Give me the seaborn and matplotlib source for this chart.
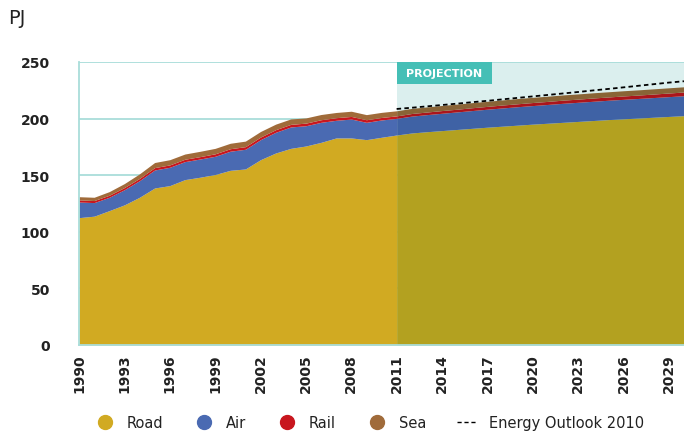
import matplotlib
matplotlib.use("Agg")
import matplotlib.pyplot as plt
from matplotlib.lines import Line2D
from matplotlib.patches import Rectangle
import seaborn as sns
import pandas as pd

# data (PJ)
years = list(range(1990, 2031))
road = [112.5, 113.8, 118.7, 123.8, 130.5, 138.7, 140.8, 146.1, 148.2, 150.6,
        154.3, 155.5, 163.7, 169.6, 173.7, 175.8, 179.0, 182.9, 182.9, 181.4,
        183.5, 185.5,
        187.3, 188.4, 189.4, 190.4, 191.4, 192.4, 193.3, 194.2, 195.1, 195.9,
        196.7, 197.5, 198.3, 199.1, 199.8, 200.5, 201.2, 201.9, 202.6]
air = [13.8, 12.0, 11.8, 13.4, 14.7, 15.9, 16.2, 15.9, 16.1, 16.1,
       16.9, 17.4, 17.7, 18.3, 18.9, 17.9, 17.7, 15.6, 16.7, 15.3,
       15.3, 14.7,
       14.9, 15.1, 15.3, 15.5, 15.7, 15.9, 16.1, 16.3, 16.4, 16.6,
       16.8, 16.9, 17.0, 17.1, 17.2, 17.3, 17.4, 17.5, 17.6]
rail = [1.9, 1.8, 1.8, 1.9, 2.0, 2.1, 2.1, 2.1, 2.1, 2.2,
        2.2, 2.3, 2.3, 2.3, 2.3, 2.3, 2.3, 2.3, 2.3, 2.3,
        2.2, 2.2,
        2.3, 2.3, 2.4, 2.4, 2.5, 2.5, 2.6, 2.6, 2.7, 2.7,
        2.8, 2.8, 2.9, 2.9, 3.0, 3.0, 3.1, 3.2, 3.3]
sea = [2.8, 2.9, 3.2, 3.5, 4.0, 4.5, 4.6, 4.6, 4.7, 4.8,
       4.8, 4.9, 4.9, 4.9, 4.8, 4.6, 4.6, 4.6, 4.6, 4.5,
       4.5, 4.5,
       4.5, 4.5, 4.5, 4.5, 4.5, 4.5, 4.5, 4.6, 4.6, 4.6,
       4.6, 4.6, 4.6, 4.6, 4.6, 4.6, 4.6, 4.6, 4.6]
outlook_years = list(range(2011, 2031))
outlook = [208.5, 209.6, 210.8, 212.0, 213.2, 214.5, 215.7, 217.0, 218.3, 219.6,
           220.9, 222.2, 223.5, 224.9, 226.2, 227.6, 229.0, 230.4, 231.8, 233.0]

labels = ["Road", "Air", "Rail", "Sea"]
colors = ["#D1AA22", "#4A6AB2", "#C8161E", "#A06B3A"]
proj_colors = ["#B3A120", "#3F62A5", "#AB151C", "#896436"]
proj_start = 2011

df = pd.DataFrame({"year": years, "Road": road, "Air": air, "Rail": rail, "Sea": sea})
hist = df[df.year <= proj_start]
proj = df[df.year >= proj_start]

sns.set_theme(style="white")
plt.rcParams["font.family"] = ["DejaVu Sans"]

fig = plt.figure(figsize=(6.84, 4.35), dpi=100)
ax = fig.add_axes([0.1155, 0.2046, 0.8845, 0.6506])

grid_c = "#A9DDDA"
ax.axvspan(proj_start, 2030, color="#DBEFEE", zorder=0, lw=0)
for v in [50, 100, 150, 200, 250]:
    ax.axhline(v, color=grid_c, lw=1.3, zorder=1)

ax.stackplot(hist.year, [hist[c] for c in labels], colors=colors, lw=0, zorder=2)
ax.stackplot(proj.year, [proj[c] for c in labels], colors=proj_colors, lw=0, zorder=2)

sns.lineplot(x=outlook_years, y=outlook, ax=ax, color="black", lw=1.3,
             linestyle=(0, (2.5, 1.8)), zorder=4)

# projection tag
ax.add_patch(Rectangle((proj_start, 230.5), 6.3, 19.5, color="#45BFB6", lw=0, zorder=5))
ax.text(proj_start + 3.15, 240.2, "PROJECTION", color="white", fontsize=8,
        fontweight="bold", ha="center", va="center", zorder=6)

ax.set_xlim(1990, 2030)
ax.set_ylim(0, 250)
ax.set_xticks(list(range(1990, 2030, 3)))
ax.set_yticks([0, 50, 100, 150, 200, 250])
ax.tick_params(axis="x", labelrotation=90, labelsize=10, length=0, pad=6, colors="#222222")
ax.tick_params(axis="y", labelsize=10, length=0, pad=21, colors="#222222")
for t in ax.get_xticklabels() + ax.get_yticklabels():
    t.set_fontweight("bold")

for s in ["top", "right"]:
    ax.spines[s].set_visible(False)
ax.spines["left"].set_color(grid_c)
ax.spines["left"].set_linewidth(1.3)
ax.spines["bottom"].set_color(grid_c)
ax.spines["bottom"].set_linewidth(1.3)
ax.set_xlabel("")
ax.set_ylabel("")

fig.text(0.012, 0.958, "PJ", fontsize=14, color="#222222", ha="left", va="center")

handles = [Line2D([], [], marker="o", color=c, linestyle="", markersize=10) for c in colors]
handles.append(Line2D([], [], color="black", lw=1, linestyle=(0, (3, 2))))
fig.legend(handles, labels + ["Energy Outlook 2010"], loc="center", ncol=5,
           bbox_to_anchor=(0.54, 0.027), frameon=False, fontsize=10.5,
           handlelength=1.4, columnspacing=2.1, handletextpad=0.8,
           labelcolor="#222222")

fig.savefig("out.png", dpi=100)
